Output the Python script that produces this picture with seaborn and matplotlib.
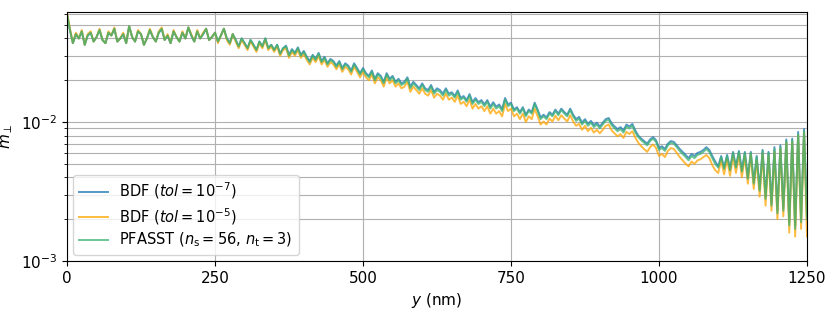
import seaborn as sns
import matplotlib.pyplot as plt
from matplotlib.ticker import LogLocator, NullFormatter

# position along y in nm, one sample every 5 nm
y_nm = list(range(0, 1255, 5))

# m_perp values, in units of 1e-3
m_bdf7 = [
    60, 46, 37, 43, 40, 45, 36, 42, 44, 38,
    41, 46, 39, 37, 44, 42, 47, 38, 40, 43,
    37, 49, 41, 38, 45, 43, 36, 40, 46, 41,
    38, 44, 47, 39, 42, 37, 45, 41, 38, 44,
    40, 48, 42, 38, 45, 40, 43, 47, 39, 41,
    44, 38, 42, 47, 40, 37, 43, 39, 35, 40,
    37, 34, 39, 36, 33, 38, 35, 40, 34, 36,
    33, 36, 31, 34, 35.5, 30.5, 33.5, 31.5, 34.5, 30.5,
    32.5, 29.5, 27.5, 30.5, 28.5, 31.5, 27.5, 29.5, 26.5, 28.5,
    27.5, 25.5, 27.5, 24.5, 26.5, 25.5, 23.5, 26.5, 24.5, 22.5,
    24.5, 22.5, 21.5, 23.5, 20.5, 22.5, 21.5, 19.5, 22.5, 20.5,
    21.5, 19.5, 20.5, 19, 19.5, 21, 18, 19.5, 18.5, 17.5,
    19, 17.5, 17, 18.5, 16.5, 17.5, 17, 16, 17.5, 16,
    16.4, 15.4, 16.9, 14.9, 15.4, 14.4, 15.9, 13.9, 14.9, 13.9,
    14.4, 13.4, 14.4, 12.9, 13.9, 12.9, 13.4, 12.4, 14.9, 13.4,
    13.8, 12.3, 12.8, 11.8, 12.8, 11.3, 12.3, 11.8, 13.8, 12.3,
    10.8, 11.3, 10.8, 11.8, 11.3, 12.3, 11.5, 12.5, 11.8, 11.3,
    12.5, 11.3, 10.5, 10.9, 9.9, 10.5, 9.7, 10.2, 9.5, 9.9,
    9.3, 9.9, 10.5, 10.7, 9.8, 9.3, 8.9, 9.2, 8.7, 9.6,
    9.3, 9.7, 8.7, 8.0, 7.6, 7.3, 7.0, 7.5, 7.8, 7.4,
    6.5, 6.7, 6.4, 7.0, 7.3, 7.2, 6.8, 6.4, 6.1, 5.8,
    5.5, 5.9, 5.7, 6.0, 6.1, 6.3, 6.6, 6.3, 5.7, 5.2,
    4.8, 5.7, 4.7, 5.8, 4.6, 6.1, 4.8, 6.2, 4.5, 6.1,
    4.0, 6.1, 3.7, 5.7, 3.3, 6.3, 2.9, 6.1, 2.6, 6.6,
    2.3, 6.8, 2.4, 7.5, 1.9, 7.6, 1.8, 8.5, 2.0, 8.9,
    2.1,
]

m_bdf5 = [
    62, 47, 37, 44, 40, 46, 36, 43, 45, 38,
    41, 47, 39, 37, 45, 42, 48, 38, 40, 44,
    37, 49, 41, 38, 46, 43, 36, 40, 47, 41,
    38, 45, 48, 39, 43, 37, 46, 41, 38, 45,
    40, 48, 43, 38, 46, 40, 44, 47, 39, 41,
    44, 37, 42, 47, 39, 36, 43, 38, 34, 39,
    36, 33, 38, 35, 32, 37, 34, 39, 33, 35,
    32, 35, 30, 33, 34, 29, 32, 30, 33, 29,
    31, 28, 26, 29, 27, 30, 26, 28, 25, 27,
    26, 24, 26, 23, 25, 24, 22, 25, 23, 21,
    23, 21, 20, 22, 19, 21, 20, 18, 21, 19,
    20, 18, 19, 17.5, 18, 19.5, 16.5, 18, 17, 16,
    17.5, 16, 15.5, 17, 15, 16, 15.5, 14.5, 16, 14.5,
    15, 14, 15.5, 13.5, 14, 13, 14.5, 12.5, 13.5, 12.5,
    13, 12, 13, 11.5, 12.5, 11.5, 12, 11, 13.5, 12,
    12.5, 11, 11.5, 10.5, 11.5, 10, 11, 10.5, 12.5, 11,
    9.6, 10.1, 9.6, 10.6, 10.1, 11.1, 10.3, 11.2, 10.6, 10.1,
    11.2, 10.1, 9.4, 9.7, 8.8, 9.4, 8.6, 9.1, 8.4, 8.8,
    8.3, 8.8, 9.4, 9.6, 8.7, 8.3, 7.9, 8.2, 7.7, 8.5,
    8.2, 8.6, 7.7, 7.1, 6.7, 6.4, 6.1, 6.6, 6.9, 6.5,
    5.7, 5.9, 5.6, 6.2, 6.5, 6.4, 6.0, 5.6, 5.3, 5.0,
    4.8, 5.2, 5.0, 5.3, 5.4, 5.6, 5.8, 5.5, 4.9, 4.5,
    4.3, 5.3, 4.2, 5.4, 4.1, 5.7, 4.3, 5.8, 4.0, 5.7,
    3.6, 5.8, 3.3, 5.3, 2.9, 5.9, 2.5, 5.7, 2.3, 6.1,
    2.0, 6.4, 2.1, 7.1, 1.6, 7.2, 1.5, 8.0, 1.7, 8.4,
    1.5,
]

m_pfasst = [
    60, 46, 37, 43, 40, 45, 36, 42, 44, 38,
    41, 46, 39, 37, 44, 42, 47, 38, 40, 43,
    37, 49, 41, 38, 45, 43, 36, 40, 46, 41,
    38, 44, 47, 39, 42, 37, 45, 41, 38, 44,
    40, 48, 42, 38, 45, 40, 43, 47, 39, 41,
    44, 38, 42, 47, 40, 37, 43, 39, 35, 40,
    37, 34, 39, 36, 33, 38, 35, 40, 34, 36,
    33, 36, 31, 34, 35, 30, 33, 31, 34, 30,
    32, 29, 27, 30, 28, 31, 27, 29, 26, 28,
    27, 25, 27, 24, 26, 25, 23, 26, 24, 22,
    24, 22, 21, 23, 20, 22, 21, 19, 22, 20,
    21, 19, 20, 18.5, 19, 20.5, 17.5, 19, 18, 17,
    18.5, 17, 16.5, 18, 16, 17, 16.5, 15.5, 17, 15.5,
    16, 15, 16.5, 14.5, 15, 14, 15.5, 13.5, 14.5, 13.5,
    14, 13, 14, 12.5, 13.5, 12.5, 13, 12, 14.5, 13,
    13.5, 12, 12.5, 11.5, 12.5, 11, 12, 11.5, 13.5, 12,
    10.5, 11, 10.5, 11.5, 11, 12, 11.2, 12.2, 11.5, 11,
    12.2, 11, 10.2, 10.6, 9.6, 10.2, 9.4, 9.9, 9.2, 9.6,
    9.0, 9.6, 10.2, 10.4, 9.5, 9.0, 8.6, 8.9, 8.4, 9.3,
    9.0, 9.4, 8.4, 7.8, 7.4, 7.1, 6.8, 7.3, 7.6, 7.2,
    6.3, 6.5, 6.2, 6.8, 7.1, 7.0, 6.6, 6.2, 5.9, 5.6,
    5.3, 5.7, 5.5, 5.8, 5.9, 6.1, 6.4, 6.1, 5.5, 5.0,
    4.7, 5.6, 4.6, 5.7, 4.5, 6.0, 4.7, 6.1, 4.4, 6.0,
    3.9, 6.0, 3.6, 5.6, 3.2, 6.2, 2.8, 6.0, 2.5, 6.4,
    2.2, 6.6, 2.3, 7.3, 1.8, 7.4, 1.7, 8.2, 1.9, 8.6,
    2.0,
]

series = [
    (r"BDF ($\mathit{tol} = 10^{-7}$)", m_bdf7, "#1f77b4"),
    (r"BDF ($\mathit{tol} = 10^{-5}$)", m_bdf5, "orange"),
    (r"PFASST ($n_\mathrm{s} = 56$, $n_\mathrm{t} = 3$)", m_pfasst, "mediumseagreen"),
]

plt.rcParams["font.size"] = 11

fig = plt.figure(figsize=(8.3, 3.12), dpi=100)
ax = fig.add_subplot(111)
fig.subplots_adjust(left=0.0807, right=0.9723, top=0.9615, bottom=0.1635)

for label, vals, color in series:
    sns.lineplot(x=y_nm, y=[v * 1e-3 for v in vals], ax=ax, label=label,
                 color=color, alpha=0.75, linewidth=1.4, estimator=None)

ax.set_yscale("log")
ax.set_xlim(0, 1250)
ax.set_ylim(1e-3, 0.062)
ax.set_xticks([0, 250, 500, 750, 1000, 1250])
ax.yaxis.set_minor_locator(LogLocator(base=10, subs=range(2, 10)))
ax.yaxis.set_minor_formatter(NullFormatter())

ax.grid(True, which="both", axis="y", color="#b0b0b0", linewidth=0.8)
ax.grid(True, which="major", axis="x", color="#b0b0b0", linewidth=0.8)
ax.set_axisbelow(True)

ax.set_xlabel("$y$ (nm)")
ax.set_ylabel(r"$m_\perp$")
ax.legend(loc="lower left", fontsize=10.5, labelspacing=0.3,
          borderaxespad=0.4, handlelength=2.0)

fig.savefig("out.png", dpi=100)
